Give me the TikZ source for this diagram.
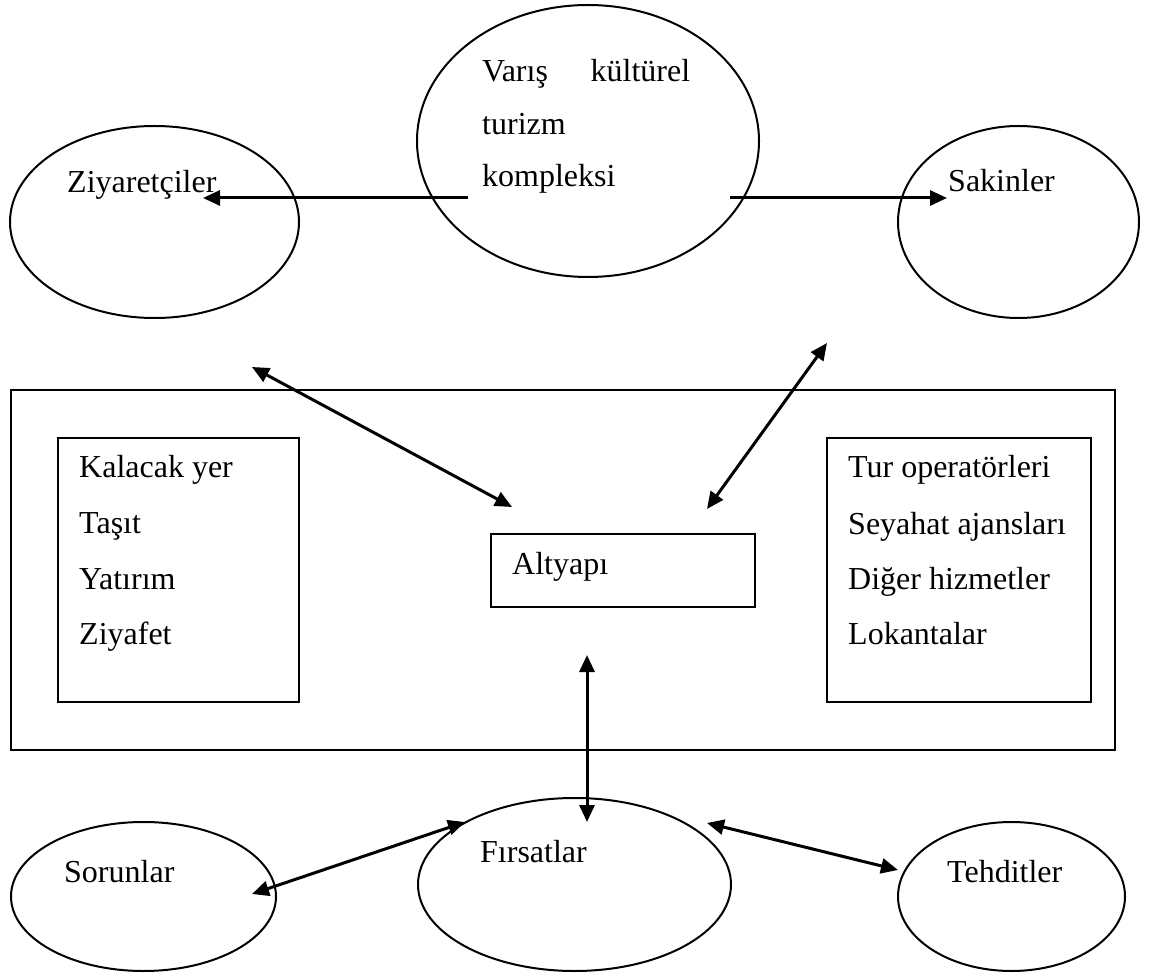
\documentclass[tikz,border=0pt]{standalone}
\usepackage{fontspec}
\setmainfont{Liberation Serif}
\usetikzlibrary{arrows.meta,shapes.geometric}

\tikzset{
  oval/.style={draw, ellipse, line width=2pt, inner sep=0pt},
  box/.style={draw, rectangle, line width=2pt, inner sep=0pt},
  lbl/.style={anchor=base west, inner sep=0pt, font=\fontsize{32}{38}\selectfont},
  link/.style={line width=3pt, -{Triangle[length=17pt,width=15pt]}},
  both/.style={line width=3pt, {Triangle[length=17pt,width=15pt]}-{Triangle[length=17pt,width=15pt]}}
}

\begin{document}
\begin{tikzpicture}[x=1pt,y=-1pt]
            \useasboundingbox (0,0) rectangle (1149,973);

            % Top ellipses
            \node[oval, minimum width=342pt, minimum height=272pt] (dest) at (588,141) {};
            \node[oval, minimum width=289pt, minimum height=192pt] (visitors) at (154.5,222) {};
            \node[oval, minimum width=241pt, minimum height=192pt] (residents) at (1018.5,222) {};

            \node[lbl] (dest1) at (482,82) {\makebox[208pt][s]{Varış kültürel}};
            \node[lbl] (dest2) at (482,135) {turizm};
            \node[lbl] (dest3) at (482,187) {kompleksi};
            \node[lbl] (visitorstxt) at (67,193) {Ziyaretçiler};
            \node[lbl] (residentstxt) at (948,192) {Sakinler};

            % Middle boxes
            \node[box, minimum width=1104pt, minimum height=360pt] (frame) at (563,570) {};
            \node[box, minimum width=241pt, minimum height=264pt] (supply) at (178.5,570) {};
            \node[box, minimum width=264pt, minimum height=264pt] (services) at (959,570) {};
            \node[box, minimum width=264pt, minimum height=73pt] (infra) at (623,570.5) {};

            \node[lbl] (supply1) at (79,478) {Kalacak yer};
            \node[lbl] (supply2) at (79,533) {Taşıt};
            \node[lbl] (supply3) at (79,589) {Yatırım};
            \node[lbl] (supply4) at (79,644) {Ziyafet};

            \node[lbl] (services1) at (848,478) {Tur operatörleri};
            \node[lbl] (services2) at (848,534) {Seyahat ajansları};
            \node[lbl] (services3) at (848,589) {Diğer hizmetler};
            \node[lbl] (services4) at (848,644) {Lokantalar};

            \node[lbl] (infratxt) at (512,574) {Altyapı};

            % Bottom ellipses
            \node[oval, minimum width=265pt, minimum height=149pt] (problems) at (143.5,896.5) {};
            \node[oval, minimum width=313pt, minimum height=173pt] (chances) at (574.5,884.5) {};
            \node[oval, minimum width=227pt, minimum height=149pt] (threats) at (1011.5,896.5) {};

            \node[lbl] (problemstxt) at (64,882) {Sorunlar};
            \node[lbl] (chancestxt) at (480,862) {Fırsatlar};
            \node[lbl] (threatstxt) at (947,882) {Tehditler};

            % Arrow ends
            \coordinate (destW) at (468,198);
            \coordinate (visitorsE) at (203,198);
            \coordinate (destE) at (730,198);
            \coordinate (residentsW) at (947,198);
            \coordinate (visitorsS) at (252,367);
            \coordinate (infraNW) at (512,507);
            \coordinate (residentsS) at (827,343);
            \coordinate (infraNE) at (707,509);
            \coordinate (infraS) at (587,655);
            \coordinate (chancesN) at (587,822);
            \coordinate (chancesW) at (465,822);
            \coordinate (problemsE) at (252,894);
            \coordinate (chancesE) at (707,823);
            \coordinate (threatsW) at (898,870);

            \draw[link] (destW) -- (visitorsE);
            \draw[link] (destE) -- (residentsW);
            \draw[both] (visitorsS) -- (infraNW);
            \draw[both] (residentsS) -- (infraNE);
            \draw[both] (infraS) -- (chancesN);
            \draw[both] (chancesW) -- (problemsE);
            \draw[both] (chancesE) -- (threatsW);
        \end{tikzpicture}
\end{document}
